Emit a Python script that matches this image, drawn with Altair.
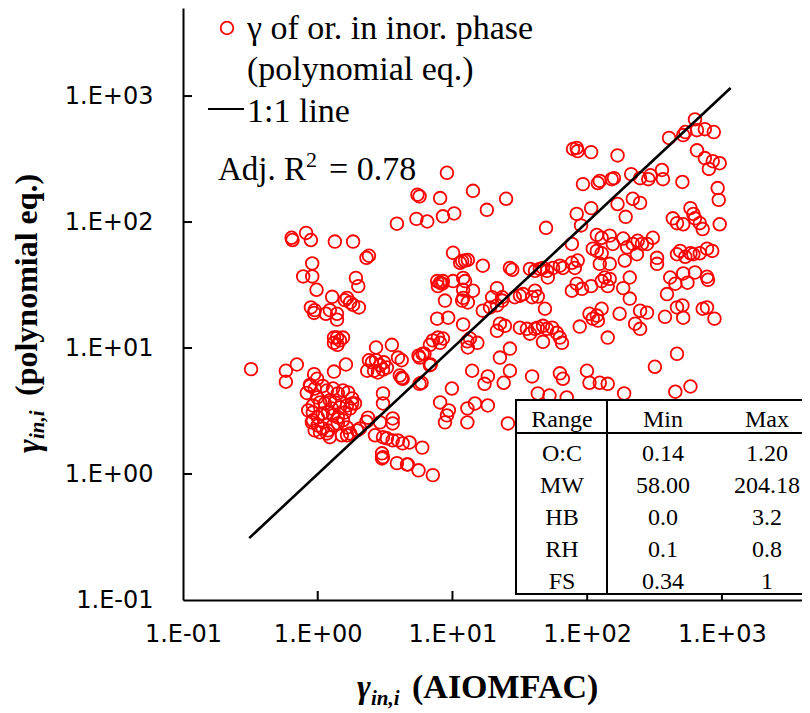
import altair as alt
import pandas as pd

# ---------------- data ----------------
gamma_aiomfac = [
    # left sparse group
    0.32, 0.58, 0.58, 0.70, 0.64, 0.65, 0.82, 0.89, 1.34, 1.83, 2.3, 2.4, 0.91, 0.78, 0.91, 0.98, 1.28, 1.92, 2.0,
    0.89, 0.95, 0.94, 1.15, 1.23, 1.39, 1.39, 1.59, 1.65, 1.74, 1.83, 2.02, 1.32, 1.39, 1.46, 1.54, 1.32, 1.40,
    0.94, 0.99, 1.32, 1.62, 0.88, 0.83,
    # dense low-left cluster
    0.875, 0.95, 1.09, 1.17, 1.30, 1.41, 1.54, 1.68, 1.89, 0.99, 1.04, 1.13, 1.23, 1.34, 1.46, 1.65, 1.74,
    0.92, 1.0, 1.09, 1.19, 1.30, 1.41, 1.54, 0.92, 1.0, 1.09, 1.19, 1.30, 1.41, 1.65, 1.74, 1.96, 1.17, 1.04,
    0.905, 0.92, 1.27, 1.59, 1.80, 0.85, 0.95, 1.23, 1.51, 2.36, 2.06, 1.65, 2.3, 1.8,
    # middle-low group
    2.53, 2.71, 2.9, 3.1, 3.26, 2.62, 2.8, 3.05, 2.71, 3.55, 2.33, 2.4,
    3.94, 4.2, 4.2, 4.27, 4.07, 5.7, 6.2, 5.7, 6.9, 3.05, 3.05, 3.6, 3.6,
    2.9, 2.66, 3.05, 3.26, 3.6, 3.94, 4.27, 4.8, 5.97, 3.0, 3.0, 3.05, 3.87, 4.6, 4.67, 5.6, 7.15,
    # upper-middle group
    3.87, 5.4, 6.5, 8.5, 10.3, 18, 5.7, 8.1, 5.5, 9.1, 14.2, 25, 10.1, 11.4, 12.4, 13.0, 11.8, 16.8,
    7.7, 7.8, 8.4, 8.1, 8.5, 10.1, 12.4, 12.0, 12.0, 14.2, 8.8, 11.8, 13, 12, 12, 12.9, 13, 15.3, 13.5, 7.7, 9.3,
    7.15, 7.8, 8.5, 8.1, 6.8, 6.0, 5.6, 6.8, 5.9,
    14, 17.3, 18.3, 14.7, 18.3, 12.9, 12.9, 9.9, 8.1, 9.4, 9.1, 8.8,
    22.5, 24, 26.7, 26.7, 25.8,
    # centre group
    16.8, 19, 21.4, 23.4, 21.4, 19.7, 23.4, 29, 31.7, 33.4, 41, 43, 48.6, 39,
    22.5, 24.5, 31.7, 35.7, 37.6, 41, 43, 47, 50.3, 55, 59.5, 62.7, 65, 47, 21.4,
    26.7, 27.8, 37.6, 41, 44.5, 47, 50.3, 51, 55.8, 62.7, 66, 77, 81, 85, 77,
    77, 83.6, 91.5, 107, 128, 147, 142, 135,
    # right group
    110, 118, 128, 124, 147, 190, 234, 330, 118, 128, 147, 155, 185, 198, 218, 237, 255, 278, 307, 330,
    83.6, 107, 168, 193, 218, 247, 49.5, 90,
    93, 120, 124, 152, 158, 212, 247, 284, 295, 359, 365, 509,
    78.5, 83.6, 85, 107, 168,
    405, 516, 535, 631, 653, 747, 870, 653, 747, 800, 855, 963, 930, 947, 963,
    432, 464, 516, 584, 614, 631, 685, 720,
    464, 490, 535, 584, 614, 685, 775, 847,
    413, 451, 516, 555, 631, 775, 788, 391,
    464, 509, 516, 378, 720, 775, 880,
    464, 318, 451, 584,
    207, 185, 207, 247, 278, 227, 247, 174,
    104, 110, 120, 128, 118, 142, 88,
    99.6, 104, 124, 142, 188, 62.7, 66, 43, 52.5, 70.5, 39,
]

gamma_poly = [
    # left sparse group
    6.8, 6.6, 5.4, 7.4, 75, 72, 82, 72, 70, 70, 52, 54, 47, 37, 37, 29, 25.5, 36, 31,
    21, 20, 19, 18.7, 20, 18.7, 16.8, 24, 25, 23, 22, 21, 12.1, 12.1, 11.5, 12.1, 11.0, 10.6,
    6.2, 5.7, 6.5, 7.4, 5.0, 4.4,
    # dense low-left cluster
    5.1, 4.77, 5.0, 4.6, 4.77, 4.36, 4.6, 4.44, 3.63, 4.05, 3.7, 3.63, 3.84, 3.7, 3.38, 3.5, 3.32,
    3.08, 2.82, 3.03, 3.08, 2.92, 2.82, 2.67, 2.67, 2.43, 2.3, 2.22, 2.43, 2.52, 2.34, 2.10, 2.22, 2.10, 2.14,
    2.57, 3.5, 3.32, 3.08, 3.98, 3.2, 2.22, 1.96, 2.03, 2.8, 2.3, 2.03, 2.6, 3.63,
    # middle-low group
    7.7, 8.0, 7.3, 7.7, 7.0, 6.6, 6.4, 6.75, 10.1, 10.6, 6.6, 8.0,
    8.4, 8.0, 5.8, 5.7, 6.05, 8.4, 9.0, 5.2, 7.4, 4.36, 3.63, 2.76, 2.52,
    2.57, 2.03, 1.96, 1.92, 1.85, 1.85, 1.75, 1.78, 1.62, 1.46, 1.33, 1.36, 1.22, 1.19, 1.19, 1.07, 0.98,
    # upper-middle group
    97, 106, 101, 111, 117, 125, 160, 155, 165, 246, 177, 153, 57, 47.5, 49.5, 50, 49, 45,
    34, 31, 32.4, 33, 34, 34, 34, 29, 36, 28.5, 23.8, 23.8, 23, 25, 15.4, 11.3, 10.1, 11.0, 11.9, 17.1, 17.4,
    11.5, 12.1, 11.9, 11.0, 10.6, 9.0, 8.7, 7.3, 5.3,
    6.6, 5.2, 5.95, 3.63, 3.5, 3.32, 2.57, 4.77, 3.7, 3.2, 2.92, 2.57,
    8.4, 5.3, 6.6, 9.9, 2.52,
    # centre group
    19.8, 21, 21.8, 23.8, 29.9, 25.3, 25.3, 25.3, 26, 26.8, 28.5, 25.6, 20.5, 25.3,
    15.6, 15, 14.5, 14.2, 13, 14.2, 14.5, 15, 14.2, 14.5, 13.2, 12.1, 11, 11.2, 13.7,
    43.2, 41.8, 42.5, 41, 42.5, 43.2, 41, 36.3, 43.2, 45, 43.2, 47.5, 43.2, 49.5, 67,
    28.5, 32.4, 29.5, 31, 34, 35.4, 31, 36.3,
    # right group
    61.5, 59, 56.5, 46.6, 46.6, 49.5, 55.5, 46.6, 79, 75, 78, 67, 74, 63, 67, 71, 67, 67, 75, 52,
    116, 129, 139, 110, 153, 142, 90, 94,
    200, 204, 212, 219, 223, 240, 223, 219, 235, 259, 219, 208,
    380, 388, 366, 359, 338,
    465, 490, 518, 653, 536, 546, 518, 371, 322, 264, 304, 293, 186, 150, 96,
    107, 98, 96, 129, 116, 107, 98, 88,
    55.5, 59, 53, 56.5, 55.5, 56.5, 61.5, 59,
    36.3, 32.4, 39.1, 33, 39.8, 36.8, 34.8, 26.8,
    21, 21.8, 17.4, 17.7, 20.5, 21, 17.1,
    9.0, 7.1, 4.5, 4.95,
    36.3, 29.9, 24.7, 19.8, 19.1, 15.6, 14.2, 18.7,
    18.7, 17.1, 16.5, 20.5, 18.1, 12.1, 14.8,
    6.6, 5.3, 5.3, 5.2, 4.36, 6.3, 5.7, 4.36, 4.2, 4.05, 5.95,
]

axis_ticks = [0.1, 1, 10, 100, 1000]
inner_ticks = [1, 10, 100, 1000]
one_to_one = [0.31, 1160]

table_header = ["Range", "Min", "Max"]
table_rows = ["O:C", "MW", "HB", "RH", "FS"]
table_min = ["0.14", "58.00", "0.0", "0.1", "0.34"]
table_max = ["1.20", "204.18", "3.2", "0.8", "1"]

# ---------------- layout ----------------
W, H = 619, 592
XMAX, YMAX = 3930, 5000
SERIF = "Liberation Serif"
SANS = "DejaVu Sans"
PT_SIZE = 160

xscale = alt.Scale(type="log", domain=[0.1, XMAX], nice=False)
yscale = alt.Scale(type="log", domain=[0.1, YMAX], nice=False)

label_expr = "'1.E' + (datum.value < 1 ? '-01' : '+0' + format(log(datum.value) / LN10, '.0f'))"

xaxis = alt.Axis(values=axis_ticks, labelExpr=label_expr, ticks=False, tickSize=0, grid=False,
                 domainWidth=2, domainColor="black", labelFont=SANS, labelFontSize=24,
                 labelColor="black", labelPadding=22, labelFlush=False, labelOverlap=False, title=None)
yaxis = alt.Axis(values=axis_ticks, labelExpr=label_expr, ticks=False, tickSize=0, grid=False,
                 domainWidth=2, domainColor="black", labelFont=SANS, labelFontSize=24,
                 labelColor="black", labelPadding=30, labelFlush=False, labelOverlap=False, title=None)

df = pd.DataFrame({"x": gamma_aiomfac, "y": gamma_poly})

points = alt.Chart(df).mark_point(shape="circle", filled=False, color="#ff0000", size=PT_SIZE,
                                  strokeWidth=1.8, opacity=1).encode(
    x=alt.X("x:Q", scale=xscale, axis=xaxis),
    y=alt.Y("y:Q", scale=yscale, axis=yaxis),
)

line = alt.Chart(pd.DataFrame({"x": one_to_one, "y": one_to_one})).mark_line(
    color="black", strokeWidth=2.6).encode(
    x=alt.X("x:Q", scale=xscale, axis=xaxis),
    y=alt.Y("y:Q", scale=yscale, axis=yaxis),
)

xticks = alt.Chart(pd.DataFrame({"x": inner_ticks})).mark_rule(color="black", strokeWidth=2).encode(
    x=alt.X("x:Q", scale=xscale, axis=xaxis), y=alt.value(H), y2=alt.value(H - 9))
yticks = alt.Chart(pd.DataFrame({"y": inner_ticks})).mark_rule(color="black", strokeWidth=2).encode(
    y=alt.Y("y:Q", scale=yscale, axis=yaxis), x=alt.value(0), x2=alt.value(9))

one = pd.DataFrame({"a": [0]})


def txt(text, x, y, size, font=SERIF, weight="normal", style="normal", align="left",
        baseline="alphabetic", angle=0):
    return alt.Chart(pd.DataFrame({"t": [text]})).mark_text(
        font=font, fontSize=size, fontWeight=weight, fontStyle=style, align=align,
        baseline=baseline, angle=angle, color="black").encode(
        text="t:N", x=alt.value(x), y=alt.value(y))


# table
TL, TT, TB, TR = 333, 392, 586, 660
table_box = alt.Chart(one).mark_rect(fill="white", stroke="black", strokeWidth=2).encode(
    x=alt.value(TL), x2=alt.value(TR), y=alt.value(TT), y2=alt.value(TB))
table_hline = alt.Chart(one).mark_rule(color="black", strokeWidth=2).encode(
    x=alt.value(TL), x2=alt.value(TR), y=alt.value(425))
table_vline = alt.Chart(one).mark_rule(color="black", strokeWidth=2).encode(
    x=alt.value(424), y=alt.value(TT), y2=alt.value(TB))

col_x = [379, 480, 584]
table_texts = []
for j, h in enumerate(table_header):
    table_texts.append(txt(h, col_x[j], 419, 24, align="center"))
for i in range(len(table_rows)):
    yy = 453 + i * 32
    table_texts.append(txt(table_rows[i], col_x[0], yy, 24, align="center"))
    table_texts.append(txt(table_min[i], col_x[1], yy, 24, align="center"))
    table_texts.append(txt(table_max[i], col_x[2], yy, 24, align="center"))

# legend
leg_marker = alt.Chart(one).mark_point(shape="circle", filled=False, color="#ff0000", size=PT_SIZE,
                                       strokeWidth=1.8, opacity=1).encode(
    x=alt.value(44), y=alt.value(20))
leg_line = alt.Chart(one).mark_rule(color="black", strokeWidth=2).encode(
    x=alt.value(25), x2=alt.value(61), y=alt.value(101))
legend_texts = [
    txt("γ of or. in inor. phase", 64, 31, 34),
    txt("(polynomial eq.)", 64, 72, 34),
    txt("1:1 line", 64, 114, 34),
    txt("Adj. R", 35, 172, 33),
    txt("2", 123, 159, 22),
    txt("= 0.78", 146, 172, 34),
]

# axis titles
titles = [
    txt("γ", 174, 690, 33, weight="bold", style="italic"),
    txt("in,i", 188, 697, 21, weight="bold", style="italic"),
    txt("(AIOMFAC)", 229, 690, 34, weight="bold"),
    txt("γ", -153, 445, 33, weight="bold", style="italic", baseline="middle", angle=270),
    txt("in,i", -145, 431, 21, weight="bold", style="italic", baseline="middle", angle=270),
    txt("(polynomial eq.)", -156, 388, 32, weight="bold", baseline="middle", angle=270),
]

chart = alt.layer(
    points, line, xticks, yticks,
    table_box, table_hline, table_vline, *table_texts,
    leg_marker, leg_line, *legend_texts, *titles,
).properties(
    width=W, height=H,
    autosize=alt.AutoSizeParams(type="none"),
    padding={"left": 175, "top": 0, "right": 0, "bottom": 112},
    background="white",
).configure_view(stroke=None)

chart.save("out.html", embed_options={"renderer": "svg", "actions": False})
